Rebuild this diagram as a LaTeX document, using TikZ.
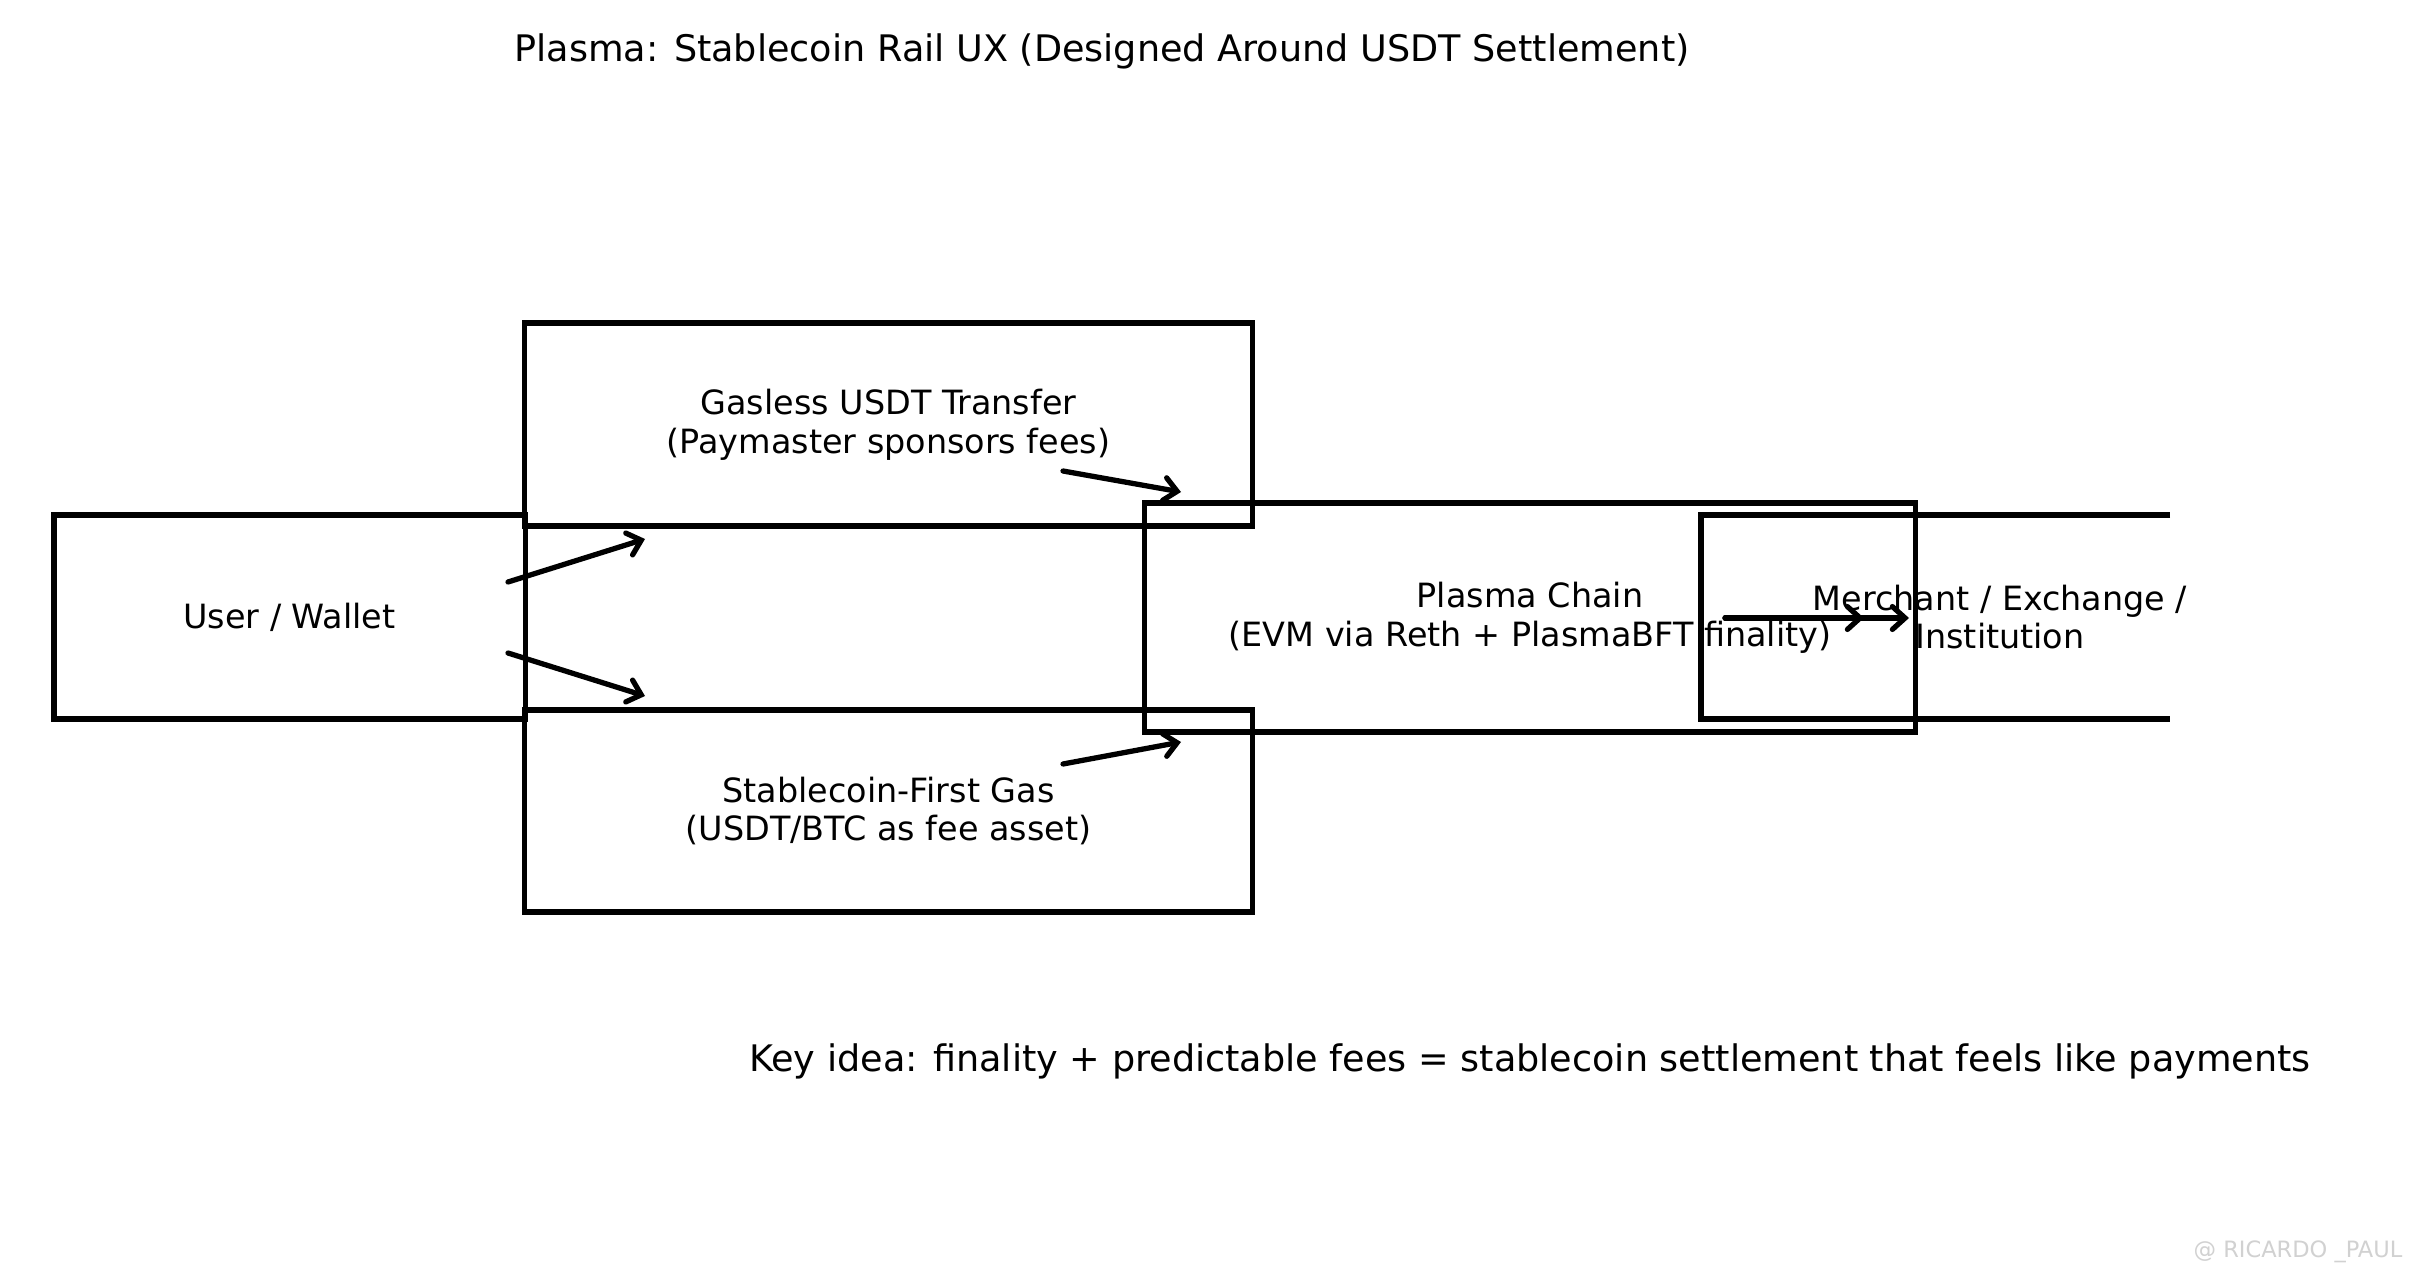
\documentclass[tikz,border=0pt]{standalone}
\usepackage{fontspec}
\setmainfont{DejaVu Sans}
\usetikzlibrary{arrows.meta}
\begin{document}
\begin{tikzpicture}[x=0.01cm,y=-0.01cm,
  box/.style={draw=black,line width=1.5pt,rectangle,inner sep=0pt},
  lbl/.style={align=center,font=\fontsize{9.5}{11}\selectfont},
  arr/.style={line width=1.5pt,line cap=round,-{Straight Barb[length=3.6pt,width=6.5pt,line width=1.5pt,line cap=round]}}]
\useasboundingbox (0,0) rectangle (2420,1276);
\fill[white] (0,0) rectangle (2420,1276);
% title
\node[font=\fontsize{10.4}{12}\selectfont] (title) at (1102,51) {Plasma: Stablecoin Rail UX (Designed Around USDT Settlement)};
% boxes
\node[box,minimum width=4.71cm,minimum height=2.04cm] (user) at (289.5,617) {};
\node[lbl] (usert) at (289.5,617) {User / Wallet};
\node[box,minimum width=7.27cm,minimum height=2.03cm] (gas) at (888.5,424.5) {};
\node[lbl] (gast) at (888.5,424.5) {Gasless USDT Transfer\\(Paymaster sponsors fees)};
\node[box,minimum width=7.27cm,minimum height=2.02cm] (sgas) at (888.5,811) {};
\node[lbl] (sgast) at (888.5,811) {Stablecoin-First Gas\\(USDT/BTC as fee asset)};
\node[box,minimum width=7.70cm,minimum height=2.29cm] (chain) at (1530,617.5) {};
\node[lbl] (chaint) at (1530,617.5) {Plasma Chain\\(EVM via Reth + PlasmaBFT finality)};
% merchant box (clipped on the right)
\coordinate (mtr) at (2170,515);
\coordinate (mtl) at (1701,515);
\coordinate (mbl) at (1701,719);
\coordinate (mbr) at (2170,719);
\draw[line width=1.5pt] (mtr) -- (mtl) -- (mbl) -- (mbr);
\node[lbl] (merch) at (2000,617) {Merchant / Exchange /\\Institution};
% arrows
\coordinate (a1s) at (508,582); \coordinate (a1e) at (645,539);
\coordinate (a2s) at (508,653); \coordinate (a2e) at (645,696);
\coordinate (a3s) at (1063,471); \coordinate (a3e) at (1181,492);
\coordinate (a4s) at (1063,764); \coordinate (a4e) at (1181,742);
\coordinate (a5s) at (1725,618); \coordinate (a5e) at (1864,618);
\coordinate (a6e) at (1909,618);
\draw[arr] (a1s) -- (a1e);
\draw[arr] (a2s) -- (a2e);
\draw[arr] (a3s) -- (a3e);
\draw[arr] (a4s) -- (a4e);
\draw[arr] (a5s) -- (a5e);
\draw[arr] (a5s) -- (a6e);
% key idea
\node[font=\fontsize{10.4}{12}\selectfont] (key) at (1530,1061) {Key idea: finality + predictable fees = stablecoin settlement that feels like payments};
% watermark
\node[font=\fontsize{6.4}{7}\selectfont,text=black!18] (wm) at (2298,1252) {@ RICARDO \_PAUL};
\end{tikzpicture}
\end{document}
